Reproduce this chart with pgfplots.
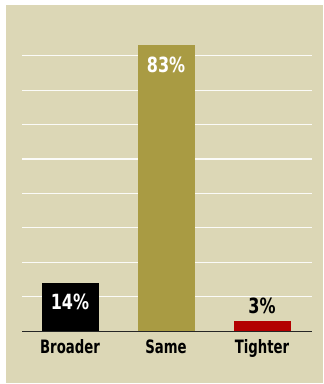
\documentclass[border=0pt]{standalone}
\usepackage{pgfplots}
\pgfplotsset{compat=1.18}
\usepackage{fontspec}
\setmainfont{DejaVu Sans Condensed}
\newfontfamily\labfont{DejaVu Sans Condensed Bold}[FakeStretch=0.8]
\newfontfamily\pctfont{DejaVu Sans Condensed Bold}[FakeStretch=0.85]
\definecolor{bgc}{HTML}{DCD7B6}
\definecolor{olive}{HTML}{A99B43}
\definecolor{redc}{HTML}{B30000}
\begin{document}
\begin{tikzpicture}
\fill[white] (0,0) rectangle (324bp,384bp);
\fill[bgc] (6bp,1bp) rectangle (323bp,379bp);
\begin{axis}[
  at={(22bp,53bp)}, anchor=south west,
  scale only axis, width=290bp, height=301bp,
  xmin=-0.5, xmax=2.52, ymin=0, ymax=87.5,
  axis line style={draw=none},
  xtick={0,1,2}, xticklabels={Broader,Same,Tighter},
  major tick length=0pt,
  xticklabel style={font=\labfont\fontsize{18.5}{20}\selectfont, yshift=-5bp},
  ytick={10,20,30,40,50,60,70,80}, yticklabels={},
  ymajorgrids, grid style={color=white!90!bgc, line width=1.1pt},
  /pgf/number format/assume math mode=true,
  ybar, bar width=57bp, bar shift=0pt,
  nodes near coords={\pgfmathprintnumber{\pgfplotspointmeta}\%},
  every node near coord/.append style={font=\pctfont\fontsize{21}{22}\selectfont, anchor=center},
  clip=false,
]
\addplot[fill=black, draw=none, every node near coord/.append style={white, yshift=-19bp}] coordinates {(0,14)};
\addplot[fill=olive, draw=none, every node near coord/.append style={white, yshift=-19bp}] coordinates {(1,83)};
\addplot[fill=redc, draw=none, every node near coord/.append style={black, yshift=15bp}] coordinates {(2,3)};
\draw[black!85, line width=1pt] (rel axis cs:0,0) -- (rel axis cs:1,0);
\end{axis}
\pgfresetboundingbox
\useasboundingbox (0,0) rectangle (324bp,384bp);
\end{tikzpicture}
\end{document}
